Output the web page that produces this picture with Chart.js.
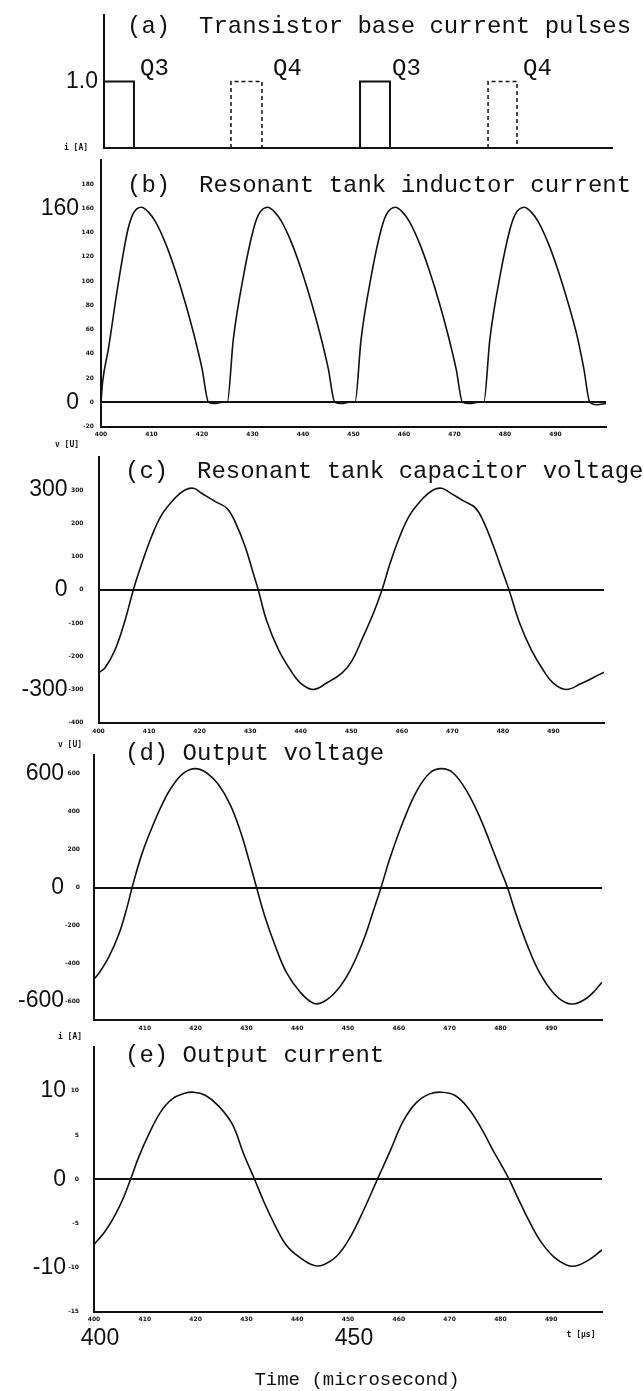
<!DOCTYPE html>
<html>
<head>
<meta charset="utf-8">
<title>Series resonant inverter waveforms</title>
<script src="https://cdn.jsdelivr.net/npm/chart.js@4.4.1/dist/chart.umd.min.js"></script>
<style>
  html, body { margin: 0; padding: 0; background: #fff; }
  #page { position: relative; width: 643px; height: 1391px; overflow: hidden; background: #fff; }
  #page canvas { position: absolute; left: 0; }
</style>
</head>
<body>
<div id="page">
  <canvas id="panelA" width="643" height="165" style="top:0px"></canvas>
  <canvas id="panelB" width="643" height="300" style="top:150px"></canvas>
  <canvas id="panelC" width="643" height="300" style="top:440px"></canvas>
  <canvas id="panelD" width="643" height="300" style="top:738px"></canvas>
  <canvas id="panelE" width="643" height="366" style="top:1025px"></canvas>
</div>
<script>
// ---- values (time in microseconds) ----
const timeTicks = [400, 410, 420, 430, 440, 450, 460, 470, 480, 490];
const timeTicksD = [410, 420, 430, 440, 450, 460, 470, 480, 490];
const timeMarks = [400, 450];

// (a) transistor base current pulses [A]
const pulseLevel = 1.0;
const q3On  = [400.0, 450.4];
const q3Off = [405.9, 456.3];
const q4On  = [425.0, 475.6];
const q4Off = [431.1, 481.3];
const pulseMarks = [1.0];

// (b) resonant tank inductor current [A]
const inductorTime = [
  400.0, 400.3, 401.5, 403.3, 405.3, 406.4, 408.0, 409.4, 410.8, 412.8, 414.7, 416.7, 418.4, 420.0, 421.3, 422.5, 424.0,
  425.0, 426.2, 428.2, 430.2, 431.2, 433.0, 434.4, 435.8, 437.8, 439.7, 441.7, 443.4, 445.0, 446.3, 447.6, 449.2,
  450.3, 451.5, 453.5, 455.5, 456.5, 458.3, 459.7, 461.1, 463.1, 465.0, 467.0, 468.7, 470.3, 471.6, 473.0, 474.7,
  475.8, 477.0, 479.0, 481.0, 482.0, 483.8, 485.2, 486.6, 488.6, 490.5, 492.5, 494.2, 495.6, 496.8, 498.2, 500.0
];
const inductorCurrent = [
  0, 16, 45, 95, 142, 156, 161, 157, 149, 131, 109, 82, 56, 28, 0, -1, 0,
  0, 52, 104, 143, 155, 161, 157, 149, 131, 109, 82, 56, 28, 0, -1, 0,
  0, 52, 104, 143, 155, 161, 157, 149, 131, 109, 82, 56, 28, 0, -1, 0,
  0, 52, 104, 143, 155, 161, 157, 149, 131, 109, 82, 56, 28, 0, -2, -1
];
const inductorTicks = [-20, 0, 20, 40, 60, 80, 100, 120, 140, 160, 180];
const inductorMarks = [0, 160];

// (c) resonant tank capacitor voltage [V]
const capTime = [
  400.0, 401.3, 403.3, 405.2, 406.9, 408.6, 410.5, 412.5, 415.1, 417.1, 418.8, 420.4, 423.1, 425.4, 427.0, 429.0, 430.7,
  431.6, 433.3, 435.6, 437.9, 439.9, 442.5, 445.2, 448.2, 450.1, 452.1, 454.4, 456.1, 457.7, 459.6, 461.6, 464.2,
  466.2, 467.9, 469.5, 472.2, 474.5, 476.1, 478.1, 479.8, 481.2, 483.3, 485.6, 487.9, 489.9, 492.5, 495.5, 498.2, 500.0
];
const capVoltage = [
  -250, -235, -180, -95, 0, 80, 160, 225, 275, 300, 305, 290, 265, 245, 205, 130, 45,
  0, -95, -180, -240, -280, -300, -280, -250, -215, -150, -70, 0, 80, 160, 225, 275,
  300, 305, 292, 267, 247, 207, 132, 60, 0, -100, -180, -240, -280, -300, -282, -262, -248
];
const capTicks = [-400, -300, -200, -100, 0, 100, 200, 300];
const capMarks = [-300, 0, 300];

// (d) output voltage [V]
const outVTime = [
  400.0, 400.9, 402.9, 404.9, 406.5, 407.5, 409.4, 411.4, 413.4, 415.4, 417.7, 419.9, 422.2, 424.5, 426.8, 428.8,
  430.5, 432.0, 433.6, 435.7, 437.9, 440.6, 443.2, 445.1, 447.8, 450.4, 453.0, 455.0, 456.5, 458.3, 460.9, 463.5,
  466.1, 468.4, 470.7, 473.4, 476.0, 478.6, 480.0, 481.4, 483.0, 485.3, 487.7, 490.3, 492.8, 494.7, 496.8, 498.5, 500.0
];
const outVoltage = [
  -483, -456, -368, -246, -105, 0, 175, 316, 438, 535, 605, 628, 605, 544, 438, 298,
  145, 0, -150, -310, -450, -553, -611, -605, -544, -439, -281, -123, 0, 158, 351, 508,
  605, 628, 605, 508, 368, 193, 95, 0, -135, -305, -450, -553, -608, -614, -588, -548, -500
];
const outVTicks = [-600, -400, -200, 0, 200, 400, 600];
const outVMarks = [-600, 0, 600];

// (e) output current [A]
const outITime = [
  400.0, 400.6, 402.2, 404.2, 405.8, 407.2, 408.8, 410.8, 413.1, 415.4, 417.7, 419.6, 421.9, 424.5, 427.2, 429.5,
  431.6, 433.4, 435.7, 437.9, 440.6, 443.2, 445.1, 447.8, 450.4, 453.0, 455.8, 458.3, 460.9, 463.5, 466.1, 468.4,
  471.0, 473.6, 476.3, 478.6, 480.2, 481.7, 483.5, 485.8, 488.0, 490.5, 493.0, 495.0, 497.5, 500.0
];
const outCurrent = [
  -7.4, -7.0, -5.9, -4.0, -2.1, 0, 2.5, 5.1, 7.6, 9.1, 9.7, 9.85, 9.5, 8.3, 6.25, 2.8,
  0, -2.5, -5.3, -7.5, -8.9, -9.75, -9.7, -8.7, -6.6, -3.6, 0, 3.2, 6.6, 8.7, 9.66, 9.85,
  9.5, 8.1, 5.7, 3.2, 1.6, 0, -2.2, -4.9, -7.1, -8.8, -9.7, -9.8, -9.1, -8.0
];
const outITicks = [-15, -10, -5, 0, 5, 10];
const outIMarks = [-10, 0, 10];

// ---- styling ----
const INK = '#111';
const TINY = { family: "'DejaVu Sans', sans-serif", size: 6, weight: 'bold' };
const BIG = { family: "'Liberation Sans', Arial, sans-serif", size: 23 };
const TITLE_FONT = "24px 'Liberation Mono', 'DejaVu Sans Mono', monospace";
const UNIT_FONT = "bold 8px 'DejaVu Sans Mono', monospace";
const XTITLE_FONT = "19px 'Liberation Mono', 'DejaVu Sans Mono', monospace";

const toPoints = (ts, vs) => ts.map((t, i) => ({ x: t, y: vs[i] }));

function pulsePoints(on, off) {
    const pts = [];
    on.forEach((t0, i) => {
        pts.push({ x: t0, y: 0 }, { x: t0, y: pulseLevel }, { x: off[i], y: pulseLevel },
                 { x: off[i], y: 0 }, { x: off[i], y: null });
    });
    return pts;
}

// scales get fixed sizes so the plot areas line up with the scan
function fixSize(w, h) {
    return scale => {
        if (w !== undefined) scale.width = w;
        if (h !== undefined) scale.height = h;
        scale.paddingLeft = scale.paddingRight = scale.paddingTop = scale.paddingBottom = 0;
    };
}
const setTicks = values => scale => { scale.ticks = values.map(v => ({ value: v })); };

// free text (panel captions, units) painted on top of the chart
function textLayer(items, top) {
    return {
        id: 'textLayer',
        afterDraw(chart) {
            const ctx = chart.ctx;
            ctx.save();
            ctx.fillStyle = INK;
            items.forEach(it => {
                ctx.font = it.font;
                ctx.textAlign = it.align || 'left';
                ctx.textBaseline = it.baseline || 'alphabetic';
                ctx.fillText(it.text, it.x, it.y - top);
            });
            ctx.restore();
        }
    };
}

function buildPanel(id, cfg) {
    const canvas = document.getElementById(id);
    const top = parseFloat(canvas.style.top);
    const scales = {
        x: {
            type: 'linear', position: 'bottom', min: 400, max: 500, weight: 0,
            grid: { display: false, drawTicks: false },
            border: { display: true, color: INK, width: 2 },
            ticks: { display: cfg.xLabels, font: TINY, color: INK, padding: cfg.xTickPad || 4,
                     autoSkip: false, maxRotation: 0 },
            afterBuildTicks: setTicks(cfg.xTicks || timeTicks),
            afterFit: fixSize(undefined, cfg.xHeight)
        },
        y: {
            type: 'linear', position: 'left', min: cfg.yMin, max: cfg.yMax, weight: 0,
            border: { display: true, color: INK, width: 2 },
            grid: {
                display: cfg.zeroLine, drawTicks: false, lineWidth: 2,
                color: ctx => (ctx.tick && ctx.tick.value === 0) ? INK : 'rgba(0,0,0,0)'
            },
            ticks: { display: cfg.tinyTicks.length > 0, font: TINY, color: INK,
                     padding: cfg.tinyPad || 0, autoSkip: false },
            afterBuildTicks: setTicks(cfg.tinyTicks.length ? cfg.tinyTicks : [cfg.yMin, cfg.yMax]),
            afterFit: fixSize(cfg.tinyW)
        },
        yBig: {
            type: 'linear', position: 'left', min: cfg.yMin, max: cfg.yMax, weight: 1,
            border: { display: false }, grid: { display: false, drawTicks: false },
            ticks: { font: BIG, color: INK, padding: cfg.bigPad, autoSkip: false,
                     callback: cfg.bigFormat || (v => String(v)) },
            afterBuildTicks: setTicks(cfg.bigTicks),
            afterFit: fixSize(cfg.bigW)
        }
    };
    if (cfg.bigXHeight) {
        scales.xBig = {
            type: 'linear', position: 'bottom', min: 400, max: 500, weight: 1,
            border: { display: false }, grid: { display: false, drawTicks: false },
            ticks: { font: BIG, color: INK, padding: 1, labelOffset: 6, autoSkip: false, maxRotation: 0 },
            afterBuildTicks: setTicks(timeMarks),
            afterFit: fixSize(undefined, cfg.bigXHeight)
        };
    }
    return new Chart(canvas.getContext('2d'), {
        type: 'line',
        data: { datasets: cfg.datasets },
        options: {
            responsive: false,
            animation: false,
            events: [],
            layout: { padding: { top: cfg.padTop, right: cfg.padRight, bottom: 0, left: 0 } },
            plugins: { legend: { display: false }, tooltip: { enabled: false } },
            elements: {
                point: { radius: 0 },
                line: { borderColor: INK, borderWidth: 1.6 }
            },
            scales
        },
        plugins: [textLayer(cfg.text, top)]
    });
}

const curve = (ts, vs, mode) => ({
    data: toPoints(ts, vs), borderColor: INK, borderWidth: 1.6, fill: false,
    tension: 0.4, cubicInterpolationMode: mode || 'default'
});

// (a)
buildPanel('panelA', {
    yMin: 0, yMax: 2, padTop: 15, padRight: 31, xHeight: 17, xLabels: false,
    tinyTicks: [], tinyW: 6, bigW: 98, bigPad: 0, bigTicks: pulseMarks,
    bigFormat: v => v.toFixed(1), zeroLine: false,
    datasets: [
        { data: pulsePoints(q3On, q3Off), borderColor: INK, borderWidth: 2, tension: 0, spanGaps: false },
        { data: pulsePoints(q4On, q4Off), borderColor: INK, borderWidth: 1.5, borderDash: [4, 3],
          tension: 0, spanGaps: false }
    ],
    text: [
        { text: '(a)  Transistor base current pulses', x: 127, y: 33, font: TITLE_FONT },
        { text: 'Q3', x: 140, y: 75, font: TITLE_FONT },
        { text: 'Q4', x: 273, y: 75, font: TITLE_FONT },
        { text: 'Q3', x: 392, y: 75, font: TITLE_FONT },
        { text: 'Q4', x: 523, y: 75, font: TITLE_FONT },
        { text: 'i [A]', x: 76, y: 148, font: UNIT_FONT, align: 'center', baseline: 'middle' }
    ]
});

// (b)
buildPanel('panelB', {
    yMin: -20, yMax: 200, padTop: 10, padRight: 37, xHeight: 23.5, xLabels: true, xTickPad: 4,
    tinyTicks: inductorTicks, tinyW: 20, tinyPad: 7, bigW: 81, bigPad: 2, bigTicks: inductorMarks,
    zeroLine: true,
    datasets: [curve(inductorTime, inductorCurrent, 'monotone')],
    text: [
        { text: '(b)  Resonant tank inductor current', x: 127, y: 192, font: TITLE_FONT }
    ]
});

// (c)
buildPanel('panelC', {
    yMin: -400, yMax: 400, padTop: 16.7, padRight: 39, xHeight: 17.3, xLabels: true, xTickPad: 5,
    tinyTicks: capTicks, tinyW: 31, tinyPad: 15, bigW: 67.5, bigPad: 0, bigTicks: capMarks,
    zeroLine: true,
    datasets: [curve(capTime, capVoltage)],
    text: [
        { text: 'v [U]', x: 67, y: 445, font: UNIT_FONT, align: 'center', baseline: 'middle' },
        { text: '(c)  Resonant tank capacitor voltage', x: 125, y: 478, font: TITLE_FONT }
    ]
});

// (d)
buildPanel('panelD', {
    yMin: -700, yMax: 700, padTop: 17, padRight: 41, xHeight: 18, xLabels: true, xTickPad: 5,
    xTicks: timeTicksD,
    tinyTicks: outVTicks, tinyW: 30, tinyPad: 14, bigW: 64, bigPad: 0, bigTicks: outVMarks,
    zeroLine: true,
    datasets: [curve(outVTime, outVoltage)],
    text: [
        { text: 'v [U]', x: 70, y: 745, font: UNIT_FONT, align: 'center', baseline: 'middle' },
        { text: '(d) Output voltage', x: 125, y: 760, font: TITLE_FONT }
    ]
});

// (e)
buildPanel('panelE', {
    yMin: -15, yMax: 15, padTop: 21.7, padRight: 41, xHeight: 12, bigXHeight: 67.3, xLabels: true, xTickPad: 4,
    tinyTicks: outITicks, tinyW: 28, tinyPad: 15, bigW: 66, bigPad: 0, bigTicks: outIMarks,
    zeroLine: true,
    datasets: [curve(outITime, outCurrent)],
    text: [
        { text: 'i [A]', x: 70, y: 1037, font: UNIT_FONT, align: 'center', baseline: 'middle' },
        { text: '(e) Output current', x: 125, y: 1062, font: TITLE_FONT },
        { text: 't [\u00b5s]', x: 581, y: 1335, font: UNIT_FONT, align: 'center', baseline: 'middle' },
        { text: 'Time (microsecond)', x: 357, y: 1380, font: XTITLE_FONT, align: 'center', baseline: 'middle' }
    ]
});
</script>
</body>
</html>
